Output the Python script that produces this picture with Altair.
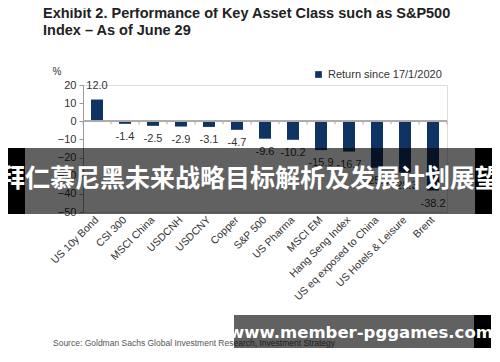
import altair as alt
import pandas as pd

categories = ["US 10y Bond", "CSI 300", "MSCI China", "USDCNH", "USDCNY", "Copper",
              "S&P 500", "US Pharma", "MSCI EM", "Hang Seng Index",
              "US eq exposed to China", "US Hotels & Leisure", "Brent"]
values = [12.0, -1.4, -2.5, -2.9, -3.1, -4.7, -9.6, -10.2, -15.9, -16.7, -25.6, -28.3, -38.2]
series_name = "Return since 17/1/2020"
y_ticks = [-50, -40, -30, -20, -10, 0, 10, 20]
title_lines = ["Exhibit 2. Performance of Key Asset Class such as S&P500", "Index \u2013 As of June 29"]
source_text = "Source: Goldman Sachs Global Investment Research, Investment Strategy"
banner_text = "拜仁慕尼黑未来战略目标解析及发展计划展望"
watermark_text = "www.member-pggames.com"

FONT = "Liberation Sans"
NAVY = "#0f3463"
W, H = 364, 127
PI = 0.57

df = pd.DataFrame({"cat": categories, "val": values, "series": [series_name] * len(values)})
df["lab"] = df["val"].map(lambda v: f"{v:.1f}")

xscale = alt.Scale(domain=categories, paddingInner=PI, paddingOuter=PI / 2)
yscale = alt.Scale(domain=[-50, 20], nice=False, zero=False)

xaxis = alt.Axis(labelAngle=-45, labelAlign="right", labelBaseline="middle",
                 labelPadding=6, domain=False, ticks=False, labelFontSize=10.5,
                 labelColor="#333333", labelFont=FONT, orient="bottom", labelOverlap=False)
yaxis = alt.Axis(values=y_ticks, grid=False, labelFontSize=11, labelColor="#333333",
                 labelFont=FONT, domainColor="#999999", tickColor="#999999",
                 tickSize=4, labelPadding=3, labelOverlap=False)

base = alt.Chart(df)

bars = base.mark_bar(color=NAVY).encode(
    x=alt.X("cat:N", scale=xscale, sort=categories, title=None, axis=xaxis),
    y=alt.Y("val:Q", scale=yscale, title=None, axis=yaxis),
    color=alt.Color("series:N", scale=alt.Scale(range=[NAVY]), title=None,
                    legend=alt.Legend(orient="none", legendX=230, legendY=-16, symbolType="square",
                                      symbolSize=45, labelFontSize=11, labelColor="#333333",
                                      labelFont=FONT, padding=0, symbolStrokeWidth=0)),
)

zero_line = base.mark_rule(color="#aaaaaa", strokeWidth=1).encode(
    x=alt.value(0), x2=alt.value(W), y=alt.Y(datum=0, scale=yscale, title=None, axis=yaxis)
)

step = W / len(categories)
sep_ticks = base.mark_rule(color="#aaaaaa", strokeWidth=1, xOffset=-step * PI / 2).encode(
    x=alt.X("cat:N", scale=xscale, sort=categories, bandPosition=0, title=None, axis=xaxis),
    y=alt.Y(datum=0, scale=yscale, title=None, axis=yaxis),
    y2=alt.Y2(datum=-1.7),
)
end_tick = base.transform_filter(alt.datum.cat == categories[-1]).mark_rule(
    color="#aaaaaa", strokeWidth=1, xOffset=step * PI / 2).encode(
    x=alt.X("cat:N", scale=xscale, sort=categories, bandPosition=1, title=None, axis=xaxis),
    y=alt.Y(datum=0, scale=yscale, title=None, axis=yaxis),
    y2=alt.Y2(datum=-1.7),
)

pos_labels = base.transform_filter("datum.val >= 0").mark_text(
    dy=-14, baseline="middle", fontSize=11, color="#333333", font=FONT
).encode(x=alt.X("cat:N", scale=xscale, sort=categories, title=None, axis=xaxis),
         y=alt.Y("val:Q", scale=yscale, title=None, axis=yaxis), text="lab:N")

neg_labels = base.transform_filter("datum.val < 0").mark_text(
    dy=13, baseline="middle", fontSize=11, color="#333333", font=FONT
).encode(x=alt.X("cat:N", scale=xscale, sort=categories, title=None, axis=xaxis),
         y=alt.Y("val:Q", scale=yscale, title=None, axis=yaxis), text="lab:N")

one = alt.Data(values=[{}])

title1 = alt.Chart(one).mark_text(align="left", baseline="top", fontSize=14.5, fontWeight="bold",
                                  font=FONT, color="#222222").encode(
    x=alt.value(-40), y=alt.value(-78), text=alt.value(title_lines[0]))
title2 = alt.Chart(one).mark_text(align="left", baseline="top", fontSize=14.5, fontWeight="bold",
                                  font=FONT, color="#222222").encode(
    x=alt.value(-40), y=alt.value(-61), text=alt.value(title_lines[1]))
pct = alt.Chart(one).mark_text(align="center", baseline="middle", fontSize=10, font=FONT,
                               color="#333333").encode(
    x=alt.value(-26), y=alt.value(-13), text=alt.value("%"))
source = alt.Chart(one).mark_text(align="left", baseline="middle", fontSize=8.5, font=FONT,
                                  color="#555555").encode(
    x=alt.value(-30), y=alt.value(258), text=alt.value(source_text))

banner = alt.Chart(one).mark_rect(color="#000000", opacity=0.62).encode(
    x=alt.value(-58), x2=alt.value(392), y=alt.value(63), y2=alt.value(129))
banner_l = alt.Chart(one).mark_rect(color="#000000").encode(
    x=alt.value(-83), x2=alt.value(-58), y=alt.value(63), y2=alt.value(129))
banner_r = alt.Chart(one).mark_rect(color="#000000").encode(
    x=alt.value(392), x2=alt.value(420), y=alt.value(63), y2=alt.value(129))
banner_t = alt.Chart(one).mark_text(align="center", baseline="middle", fontSize=25, fontWeight="bold",
                                    font="Noto Sans CJK SC", color="#ffffff").encode(
    x=alt.value(167), y=alt.value(94), text=alt.value(banner_text))

wm = alt.Chart(one).mark_rect(color="#000000", opacity=0.62).encode(
    x=alt.value(151), x2=alt.value(391), y=alt.value(230), y2=alt.value(268))
wm_r = alt.Chart(one).mark_rect(color="#000000").encode(
    x=alt.value(391), x2=alt.value(408), y=alt.value(230), y2=alt.value(268))
wm_t = alt.Chart(one).mark_text(align="center", baseline="middle", fontSize=16.5, fontWeight="bold",
                                font="DejaVu Sans", color="#ffffff").encode(
    x=alt.value(278), y=alt.value(248), text=alt.value(watermark_text))

chart = alt.layer(
    bars, zero_line, sep_ticks, end_tick, pos_labels, neg_labels, title1, title2, pct, source,
    banner, banner_l, banner_r, banner_t, wm, wm_r, wm_t
).properties(
    width=W, height=H,
    autosize=alt.AutoSizeParams(type="none"),
    padding={"left": 75, "top": 77, "right": 45, "bottom": 136},
).configure_view(stroke=None).configure_axis(labelOverlap=False).configure(background="#ffffff")

chart.save("out.html", embed_options={"renderer": "svg", "actions": False})
